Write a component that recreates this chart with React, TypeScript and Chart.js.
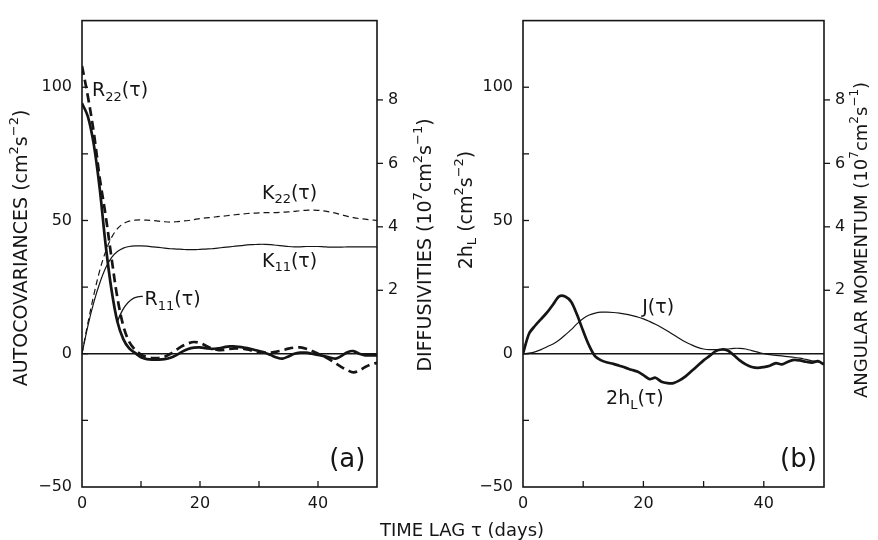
import React, { useEffect, useRef } from "react";
import { Chart, registerables } from "chart.js";
Chart.register(...registerables);

// ---------- data ----------
const TAU = [0,1,2,3,4,5,6,7,8,9,10,11,12,13,14,15,16,17,18,19,20,21,22,23,24,25,26,27,28,29,30,31,32,33,34,35,36,37,38,39,40,41,42,43,44,45,46,47,48,49,50];

// autocovariances (cm^2 s^-2), left axis of panel (a)
const R11 = [94,89,78.5,62,41,24,12,5.5,2,0.3,-1.3,-2,-2.2,-2.2,-2,-1.5,-0.5,0.8,1.8,2.3,2.4,2.1,1.8,2,2.4,2.8,2.7,2.5,2.1,1.6,1,0.4,-0.5,-1.4,-1.8,-1,0,0.4,0.4,0,-0.4,-0.9,-1.4,-1.8,-0.8,0.6,1,0,-0.6,-0.6,-0.6];
const R22 = [108,96.5,83,66,52,36,21,10.5,4.5,1.5,-0.3,-1.2,-1.6,-1.6,-1.1,0,1.5,2.9,3.9,4.4,4,3,2,1.4,1.4,1.8,2,2,1.6,1.1,0.6,0.4,0.4,0.8,1.3,1.9,2.3,2.4,1.9,1,0,-1,-2.2,-3.6,-5,-6.2,-7,-6.3,-5,-4,-3.4];

// diffusivities (10^7 cm^2 s^-1), right axis of panel (a)
const K11 = [0,0.88,1.62,2.22,2.7,3.03,3.22,3.33,3.38,3.4,3.4,3.39,3.37,3.35,3.33,3.31,3.3,3.29,3.28,3.28,3.29,3.3,3.31,3.33,3.35,3.37,3.39,3.41,3.43,3.44,3.45,3.45,3.44,3.42,3.4,3.38,3.37,3.37,3.38,3.38,3.38,3.37,3.36,3.36,3.36,3.37,3.37,3.37,3.37,3.37,3.37];
const K22 = [0,0.97,1.85,2.62,3.22,3.66,3.94,4.1,4.18,4.21,4.22,4.21,4.2,4.18,4.16,4.15,4.16,4.18,4.2,4.23,4.26,4.28,4.3,4.32,4.34,4.36,4.38,4.4,4.42,4.43,4.44,4.45,4.45,4.45,4.46,4.47,4.49,4.51,4.52,4.53,4.52,4.5,4.47,4.43,4.38,4.33,4.29,4.26,4.24,4.22,4.2];

// panel (b): 2h_L (cm^2 s^-2) left axis, J (10^7 cm^2 s^-1) right axis
const H2L = [0,7.5,10.5,13,15.5,18.5,21.5,21.5,19.5,14.5,8.5,3,-1,-2.5,-3.3,-3.8,-4.5,-5.2,-6,-6.7,-8,-9.5,-9,-10.5,-11,-11,-10,-8.5,-6.5,-4.5,-2.5,-0.8,1,1.6,1.2,-0.5,-2.5,-4,-5,-5.3,-5,-4.5,-3.5,-4,-3,-2.3,-2.5,-3,-3.3,-2.8,-4];
const J = [0,0.02,0.06,0.13,0.22,0.31,0.43,0.59,0.76,0.95,1.11,1.22,1.28,1.31,1.31,1.3,1.28,1.25,1.21,1.16,1.1,1.02,0.93,0.83,0.72,0.6,0.48,0.37,0.28,0.2,0.15,0.13,0.13,0.13,0.15,0.17,0.17,0.15,0.1,0.05,0,-0.03,-0.05,-0.07,-0.09,-0.11,-0.14,-0.18,-0.22,-0.26,-0.3];

// axes
const X_MIN = 0, X_MAX = 50;
const X_TICKS = [0,10,20,30,40,50];
const X_LABELS = [0,20,40];
const Y_MIN = -50, Y_MAX = 125;
const LEFT_TICKS = [-50,-25,0,25,50,75,100,125];
const LEFT_LABELS = [-50,0,50,100];
const Y2_MIN = -4.2, Y2_MAX = 10.5;
const RIGHT_TICKS = [2,4,6,8];

// ---------- drawing helpers ----------
const W = 878, H = 540;
const FONT = '"DejaVu Sans", sans-serif';
const INK = "#151515";

type Seg = [string, number]; // 0 normal, 1 subscript, 2 superscript

function drawRich(ctx: CanvasRenderingContext2D, segs: Seg[], x: number, y: number, size: number, align: "left" | "center", rot = 0) {
  ctx.save();
  ctx.translate(x, y);
  if (rot) ctx.rotate(rot);
  ctx.fillStyle = INK;
  ctx.textBaseline = "middle";
  ctx.textAlign = "left";
  const fontFor = (m: number) => `${m === 0 ? size : Math.round(size * 0.68)}px ${FONT}`;
  let w = 0;
  for (const [t, m] of segs) { ctx.font = fontFor(m); w += ctx.measureText(t).width; }
  let cx = align === "center" ? -w / 2 : 0;
  for (const [t, m] of segs) {
    ctx.font = fontFor(m);
    const dy = m === 1 ? size * 0.32 : m === 2 ? -size * 0.4 : 0;
    ctx.fillText(t, cx, dy);
    cx += ctx.measureText(t).width;
  }
  ctx.restore();
}

const pts = (ys: number[]) => TAU.map((x, i) => ({ x, y: ys[i] }));

type Note = { segs: Seg[]; x: number; y: number; size: number };

const NOTES_A: Note[] = [
  { segs: [["R", 0], ["22", 1], ["(τ)", 0]], x: 1.7, y: 98.5, size: 19 },
  { segs: [["K", 0], ["22", 1], ["(τ)", 0]], x: 30.5, y: 60, size: 19 },
  { segs: [["K", 0], ["11", 1], ["(τ)", 0]], x: 30.5, y: 34.5, size: 19 },
  { segs: [["R", 0], ["11", 1], ["(τ)", 0]], x: 10.6, y: 20, size: 19 },
  { segs: [["(a)", 0]], x: 41.9, y: -40, size: 26 },
];
const NOTES_B: Note[] = [
  { segs: [["J(τ)", 0]], x: 19.8, y: 17, size: 19 },
  { segs: [["2h", 0], ["L", 1], ["(τ)", 0]], x: 13.8, y: -17, size: 19 },
  { segs: [["(b)", 0]], x: 42.7, y: -40, size: 26 },
];

const TITLE_A_LEFT: Seg[] = [["AUTOCOVARIANCES (cm", 0], ["2", 2], ["s", 0], ["−2", 2], [")", 0]];
const TITLE_A_RIGHT: Seg[] = [["DIFFUSIVITIES (10", 0], ["7", 2], ["cm", 0], ["2", 2], ["s", 0], ["−1", 2], [")", 0]];
const TITLE_B_LEFT: Seg[] = [["2h", 0], ["L", 1], [" (cm", 0], ["2", 2], ["s", 0], ["−2", 2], [")", 0]];
const TITLE_B_RIGHT: Seg[] = [["ANGULAR MOMENTUM (10", 0], ["7", 2], ["cm", 0], ["2", 2], ["s", 0], ["−1", 2], [")", 0]];
const TITLE_X: Seg[] = [["TIME LAG τ (days)", 0]];

function line(ctx: CanvasRenderingContext2D, x1: number, y1: number, x2: number, y2: number) {
  ctx.beginPath(); ctx.moveTo(x1, y1); ctx.lineTo(x2, y2); ctx.stroke();
}

function buildConfig(panel: "a" | "b"): any {
  const isA = panel === "a";
  const plotLeft = isA ? 82 : 523;
  const plotRight = isA ? 377 : 824;
  const plotTop = 11;
  const plotBottom = 487;

  const zero = { label: "zero", data: [{ x: X_MIN, y: 0 }, { x: X_MAX, y: 0 }], yAxisID: "y", borderColor: INK, borderWidth: 1.6, tension: 0 };
  const datasets = isA
    ? [
        zero,
        { label: "R11", data: pts(R11), yAxisID: "y", borderColor: INK, borderWidth: 2.7, tension: 0.35 },
        { label: "R22", data: pts(R22), yAxisID: "y", borderColor: INK, borderWidth: 2.7, borderDash: [9, 5], tension: 0.35 },
        { label: "K11", data: pts(K11), yAxisID: "y2", borderColor: INK, borderWidth: 1.2, tension: 0.35 },
        { label: "K22", data: pts(K22), yAxisID: "y2", borderColor: INK, borderWidth: 1.2, borderDash: [6, 4], tension: 0.35 },
      ]
    : [
        zero,
        { label: "2hL", data: pts(H2L), yAxisID: "y", borderColor: INK, borderWidth: 2.7, tension: 0.3 },
        { label: "J", data: pts(J), yAxisID: "y2", borderColor: INK, borderWidth: 1.2, tension: 0.35 },
      ];

  const tickFont = { family: FONT, size: 16 };

  const decor = {
    id: "decor" + panel,
    afterDraw(chart: any) {
      const { ctx, chartArea, scales } = chart;
      const { left, right, top, bottom } = chartArea;
      ctx.save();
      ctx.strokeStyle = INK;
      ctx.lineWidth = 1.6;
      ctx.strokeRect(left, top, right - left, bottom - top);
      ctx.lineWidth = 1.3;
      LEFT_TICKS.forEach((v) => {
        if (v <= Y_MIN || v >= Y_MAX) return;
        const y = scales.y.getPixelForValue(v);
        line(ctx, left, y, left + 6, y);
      });
      X_TICKS.forEach((v) => {
        if (v <= X_MIN || v >= X_MAX) return;
        const x = scales.x.getPixelForValue(v);
        line(ctx, x, bottom, x, bottom - 6);
      });
      RIGHT_TICKS.forEach((v) => {
        const y = scales.y2.getPixelForValue(v);
        line(ctx, right, y, right + 6, y);
      });
      const notes = isA ? NOTES_A : NOTES_B;
      notes.forEach((n) => {
        drawRich(ctx, n.segs, scales.x.getPixelForValue(n.x), scales.y.getPixelForValue(n.y), n.size, "left");
      });
      if (isA) {
        // leader from R11 label to its curve
        const i = TAU.indexOf(6);
        const ex = scales.x.getPixelForValue(TAU[i]);
        const ey = scales.y.getPixelForValue(R11[i]);
        const sx = scales.x.getPixelForValue(10.3);
        const sy = scales.y.getPixelForValue(21.5);
        ctx.lineWidth = 1.4;
        ctx.beginPath();
        ctx.moveTo(sx, sy);
        ctx.quadraticCurveTo(scales.x.getPixelForValue(7.6), scales.y.getPixelForValue(22), ex, ey);
        ctx.stroke();
        drawRich(ctx, TITLE_A_LEFT, 22, 248, 19, "center", -Math.PI / 2);
        drawRich(ctx, TITLE_A_RIGHT, 426, 245, 19, "center", -Math.PI / 2);
        drawRich(ctx, TITLE_X, 462, 531, 18, "center");
      } else {
        drawRich(ctx, TITLE_B_LEFT, 467, 210, 19, "center", -Math.PI / 2);
        drawRich(ctx, TITLE_B_RIGHT, 862, 240, 18, "center", -Math.PI / 2);
      }
      ctx.restore();
    },
  };

  return {
    type: "line",
    data: { datasets },
    plugins: [decor],
    options: {
      responsive: false,
      animation: false,
      devicePixelRatio: 1,
      layout: { padding: { top: plotTop, left: 0, right: 0, bottom: 0 } },
      plugins: { legend: { display: false }, tooltip: { enabled: false } },
      elements: { point: { radius: 0 }, line: { borderJoinStyle: "round" } },
      scales: {
        x: {
          type: "linear",
          min: X_MIN,
          max: X_MAX,
          afterBuildTicks: (s: any) => { s.ticks = X_TICKS.map((v) => ({ value: v })); },
          afterFit: (s: any) => { s.height = H - plotBottom; },
          ticks: {
            autoSkip: false, maxRotation: 0, padding: 7, color: INK, font: tickFont,
            callback: (v: number) => (X_LABELS.includes(v) ? String(v) : ""),
          },
          grid: { display: false, drawTicks: false },
          border: { display: false },
        },
        y: {
          type: "linear",
          position: "left",
          min: Y_MIN,
          max: Y_MAX,
          afterBuildTicks: (s: any) => { s.ticks = LEFT_TICKS.map((v) => ({ value: v })); },
          afterFit: (s: any) => { s.width = plotLeft; },
          ticks: {
            autoSkip: false, padding: 10, color: INK, font: tickFont,
            callback: (v: number) => (LEFT_LABELS.includes(v) ? (v < 0 ? "−" + Math.abs(v) : String(v)) : ""),
          },
          grid: { display: false, drawTicks: false },
          border: { display: false },
        },
        y2: {
          type: "linear",
          position: "right",
          min: Y2_MIN,
          max: Y2_MAX,
          afterBuildTicks: (s: any) => { s.ticks = RIGHT_TICKS.map((v) => ({ value: v })); },
          afterFit: (s: any) => { s.width = W - plotRight; },
          ticks: { autoSkip: false, padding: 11, color: INK, font: tickFont, callback: (v: number) => String(v) },
          grid: { display: false, drawTicks: false },
          border: { display: false },
        },
      },
    },
  };
}

function Panel({ panel }: { panel: "a" | "b" }) {
  const ref = useRef<HTMLCanvasElement>(null);
  useEffect(() => {
    if (!ref.current) return;
    const chart = new Chart(ref.current, buildConfig(panel));
    return () => chart.destroy();
  }, [panel]);
  return (
    <canvas
      ref={ref}
      width={W}
      height={H}
      style={{ position: "absolute", left: 0, top: 0, width: W, height: H }}
    />
  );
}

export default function App() {
  return (
    <div style={{ position: "absolute", left: 0, top: 0, width: W, height: H, background: "#ffffff", overflow: "hidden" }}>
      <Panel panel="a" />
      <Panel panel="b" />
    </div>
  );
}
